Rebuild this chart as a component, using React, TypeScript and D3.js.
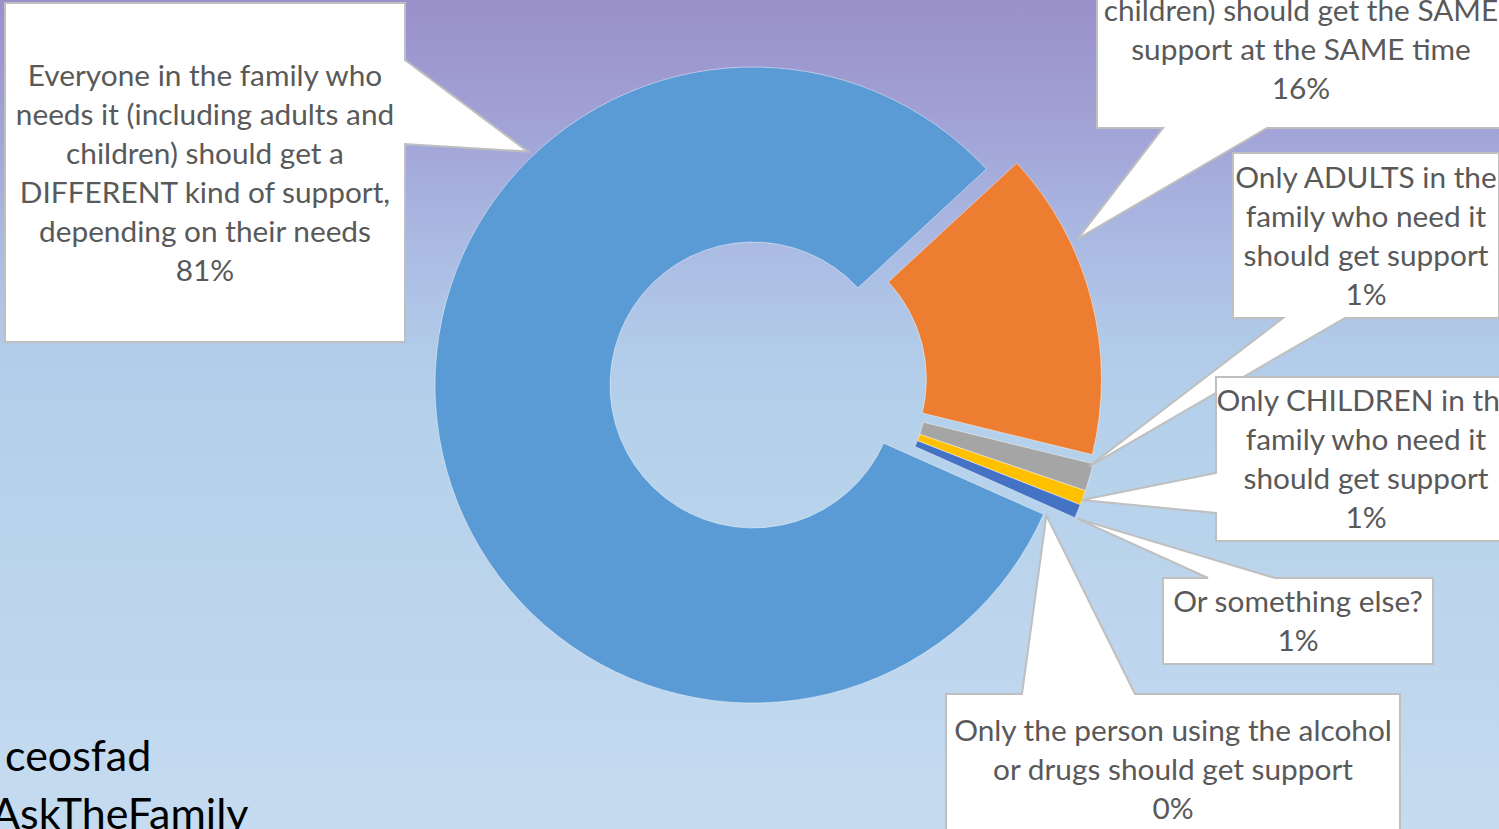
import React from "react";
import * as d3 from "d3";

// ---- data ----
const categories = [
  "Everyone in the family who needs it (including adults and children) should get a DIFFERENT kind of support, depending on their needs",
  "Everyone in the family who needs it (including adults and children) should get the SAME support at the SAME time",
  "Only ADULTS in the family who need it should get support",
  "Only CHILDREN in the family who need it should get support",
  "Or something else?",
  "Only the person using the alcohol or drugs should get support",
];
const values = [81.45, 15.7, 1.4, 0.75, 0.7, 0];
// visible label lines (the top lines of the second label lie above the picture)
const labelLines = [
  ["Everyone in the family who", "needs it (including adults and", "children) should get a", "DIFFERENT kind of support,", "depending on their needs"],
  ["children) should get the SAME", "support at the SAME time"],
  ["Only ADULTS in the", "family who need it", "should get support"],
  ["Only CHILDREN in the", "family who need it", "should get support"],
  ["Or something else?"],
  ["Only the person using the alcohol", "or drugs should get support"],
];
const colors = ["#5B9BD5", "#ED7D31", "#A5A5A5", "#FFC000", "#4472C4", "#70AD47"];
const footerLines = ["ceosfad", "AskTheFamily"];

// ---- layout / style ----
const W = 1499;
const H = 829;
const CX = 753;
const CY = 385;
const R_OUT = 318;
const R_IN = 143;
const START_DEG = 114;
// explosion: [distance px, direction deg clockwise from north]
const explode: [number, number][] = [[0, 0], [31, 79], [31.5, 96], [31.5, 96], [31.5, 96], [0, 0]];
type Box = { x: number; y: number; w: number; h: number; side: string; b1: number; b2: number; anchor: number; rf: number };
const boxes: Box[] = [
  { x: 5, y: 3, w: 400, h: 339, side: "right", b1: 57, b2: 141, anchor: 0.689, rf: 1.02 },
  { x: 1097, y: -108, w: 408, h: 236, side: "bottom", b1: 66, b2: 170, anchor: 0.306, rf: 1.025 },
  { x: 1233, y: 153, w: 266, h: 165, side: "bottom", b1: 50, b2: 112, anchor: 0.12, rf: 0.99 },
  { x: 1216, y: 377, w: 300, h: 164, side: "left", b1: 96, b2: 136, anchor: 0.67, rf: 1.0 },
  { x: 1163, y: 578, w: 270, h: 86, side: "top", b1: 45, b2: 112, anchor: 1.0, rf: 1.01 },
  { x: 946, y: 694, w: 454, h: 150, side: "top", b1: 76, b2: 189, anchor: 0.5, rf: 1.01 },
];
// vertical centre of the text block inside each box (relative to box centre, in lines)
const textShift = [0, 1, 0, 0, 0, 0];
const FONT = "Lato, 'Open Sans', sans-serif";
const LABEL_SIZE = 29.8;
const LINE_H = 39;

function calloutPath(b: Box, tx: number, ty: number): string {
  const { x, y, w, h, side, b1, b2 } = b;
  const p: [number, number][] = [];
  p.push([x, y]);
  if (side === "top") { p.push([x + b1, y], [tx, ty], [x + b2, y]); }
  p.push([x + w, y]);
  if (side === "right") { p.push([x + w, y + b1], [tx, ty], [x + w, y + b2]); }
  p.push([x + w, y + h]);
  if (side === "bottom") { p.push([x + b2, y + h], [tx, ty], [x + b1, y + h]); }
  p.push([x, y + h]);
  if (side === "left") { p.push([x, y + b2], [tx, ty], [x, y + b1]); }
  return "M" + p.map((q) => q[0].toFixed(1) + "," + q[1].toFixed(1)).join("L") + "Z";
}

export default function App() {
  const toRad = (d: number) => (d * Math.PI) / 180;
  const pie = d3
    .pie<number>()
    .sort(null)
    .value((d) => d)
    .startAngle(toRad(START_DEG))
    .endAngle(toRad(START_DEG + 360));
  const arcs = pie(values);
  const arcGen = d3.arc<d3.PieArcDatum<number>>().innerRadius(R_IN).outerRadius(R_OUT);
  const total = d3.sum(values);
  const fmt = (v: number) => Math.round((v / total) * 100) + "%";

  const offsets = explode.map(([d, dir]) => [d * Math.sin(toRad(dir)), -d * Math.cos(toRad(dir))]);

  return (
    <div style={{ position: "fixed", left: 0, top: 0, width: W, height: H, overflow: "hidden" }}>
      <svg width={W} height={H} style={{ display: "block" }}>
        <defs>
          <linearGradient id="bg" x1="0" y1="0" x2="0" y2="1">
            <stop offset="0%" stopColor="#9A90CA" />
            <stop offset="15%" stopColor="#A1A2D6" />
            <stop offset="30%" stopColor="#ABBBE3" />
            <stop offset="42%" stopColor="#B2CBE9" />
            <stop offset="50%" stopColor="#B4D0EA" />
            <stop offset="100%" stopColor="#C5DBF0" />
          </linearGradient>
        </defs>
        <rect x={0} y={0} width={W} height={H} fill="url(#bg)" />
        <g>
          {arcs.map((a, i) =>
            a.value > 0 ? (
              <path
                key={categories[i]}
                d={arcGen(a) || ""}
                transform={`translate(${CX + offsets[i][0]},${CY + offsets[i][1]})`}
                fill={colors[i]}
                stroke="rgba(255,255,255,0.55)"
                strokeWidth={0.8}
              />
            ) : null
          )}
        </g>
        <g>
          {arcs.map((a, i) => {
            const b = boxes[i];
            const th = a.startAngle + b.anchor * (a.endAngle - a.startAngle);
            const r = R_OUT * b.rf;
            const tx = CX + offsets[i][0] + r * Math.sin(th);
            const ty = CY + offsets[i][1] - r * Math.cos(th);
            const lines = [...labelLines[i], fmt(values[i])];
            const midY = b.y + b.h / 2 + textShift[i] * LINE_H;
            const midX = b.x + b.w / 2;
            return (
              <g key={"lab" + i}>
                <path d={calloutPath(b, tx, ty)} fill="#FFFFFF" stroke="#BFBFBF" strokeWidth={2} strokeLinejoin="miter" />
                <text fontFamily={FONT} fontSize={LABEL_SIZE} fill="#595959" textAnchor="middle">
                  {lines.map((ln, j) => (
                    <tspan key={j} x={midX} y={midY + (j - (lines.length - 1) / 2) * LINE_H + 0.5} dy="0.35em">
                      {ln}
                    </tspan>
                  ))}
                </text>
              </g>
            );
          })}
        </g>
        <text fontFamily={FONT} fontSize={43} fill="#000000">
          <tspan x={5} y={771}>{footerLines[0]}</tspan>
          <tspan x={-9} y={829}>{footerLines[1]}</tspan>
        </text>
      </svg>
    </div>
  );
}
